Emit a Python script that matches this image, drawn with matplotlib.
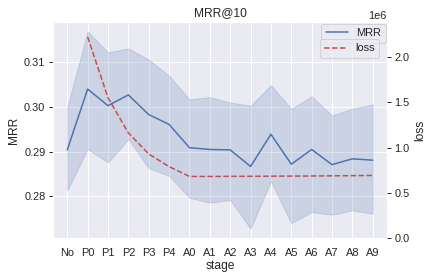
import matplotlib
matplotlib.use("Agg")
import matplotlib.pyplot as plt
import seaborn as sns
import numpy as np

stages = ["No", "P0", "P1", "P2", "P3", "P4", "A0", "A1", "A2", "A3",
          "A4", "A5", "A6", "A7", "A8", "A9"]
mrr_mean = [0.2904, 0.3040, 0.3003, 0.3027, 0.2983, 0.2961, 0.2909, 0.2905,
            0.2904, 0.2867, 0.2939, 0.2872, 0.2905, 0.2871, 0.2884, 0.2881]
mrr_upper = [0.3000, 0.3169, 0.3122, 0.3131, 0.3106, 0.3070, 0.3017, 0.3022,
             0.3010, 0.3003, 0.3049, 0.2996, 0.3024, 0.2981, 0.2996, 0.3006]
mrr_lower = [0.2813, 0.2906, 0.2876, 0.2928, 0.2863, 0.2846, 0.2797, 0.2786,
             0.2792, 0.2728, 0.2834, 0.2740, 0.2765, 0.2759, 0.2769, 0.2761]
loss_stages = stages[1:]
loss_vals = [2.226e6, 1.552e6, 1.163e6, 0.930e6, 0.790e6, 0.681e6, 0.681e6,
             0.682e6, 0.683e6, 0.684e6, 0.685e6, 0.686e6, 0.688e6, 0.690e6, 0.692e6]

sns.set_theme(style="darkgrid")
plt.rcParams["font.family"] = ["Liberation Sans", "DejaVu Sans"]

blue = "#4c72b0"
red = "#c44e52"

fig = plt.figure(figsize=(433 / 72, 279 / 72), dpi=72)
ax = fig.add_axes([53 / 433, 1 - 238 / 279, 334 / 433, 216 / 279])

x = np.arange(len(stages))
ax.fill_between(x, mrr_lower, mrr_upper, color=blue, alpha=0.2, linewidth=1,
                edgecolor=blue)
ax.plot(x, mrr_mean, color=blue, linewidth=1.5, label="MRR")
ax.set_xticks(x)
ax.set_xticklabels(stages)
ax.set_xlim(-0.7, len(stages) - 0.3)
ax.set_ylim(0.2707, 0.3190)
ax.set_yticks([0.28, 0.29, 0.30, 0.31])
ax.set_ylabel("MRR", fontsize=12, labelpad=4)
ax.set_xlabel("stage", fontsize=12, labelpad=3)
ax.set_title("MRR@10", fontsize=12, pad=6)
ax.tick_params(axis="both", labelsize=11, colors=".15")
ax.tick_params(axis="y", left=True, length=4, width=1, color=".15")

ax2 = ax.twinx()
lx = [stages.index(s) for s in loss_stages]
ax2.plot(lx, loss_vals, color=red, linestyle="--", linewidth=1.5, label="loss")
ax2.set_ylim(0, 2.39e6)
ax2.set_yticks([0, 0.5e6, 1.0e6, 1.5e6, 2.0e6])
ax2.grid(False)
ax2.set_ylabel("loss", fontsize=12, labelpad=4)
ax2.tick_params(axis="y", right=True, length=4, width=1, color=".15",
                labelsize=11)
ax2.yaxis.get_offset_text().set_fontsize(11)
for s in ax2.spines.values():
    s.set_visible(False)

ax.legend(loc="upper right", bbox_to_anchor=(0.996, 0.991), borderaxespad=0,
          fontsize=11)
ax2.legend(loc="upper right", bbox_to_anchor=(0.976, 0.921), borderaxespad=0,
           fontsize=11)

fig.savefig("out.png", dpi=72)
